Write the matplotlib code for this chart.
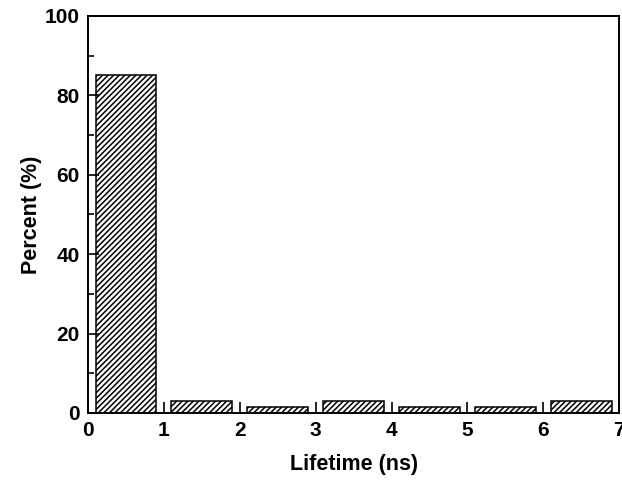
import matplotlib
matplotlib.use("Agg")
import matplotlib.pyplot as plt
from matplotlib.ticker import MultipleLocator

plt.rcParams['font.family'] = ['Liberation Sans', 'DejaVu Sans']
plt.rcParams['font.weight'] = 'bold'
plt.rcParams['hatch.linewidth'] = 1.1

bin_centers = [0.5, 1.5, 2.5, 3.5, 4.5, 5.5, 6.5]
percent = [85, 3, 1.4, 3, 1.4, 1.4, 3]
x_ticks = [0, 1, 2, 3, 4, 5, 6, 7]
y_ticks = [0, 20, 40, 60, 80, 100]

fig = plt.figure(figsize=(6.22, 4.83), dpi=100)
ax = fig.add_axes([0.1415, 0.145, 0.854, 0.822])
ax.bar(bin_centers, percent, width=0.8, facecolor='white', edgecolor='black',
       linewidth=1.1, hatch='//////')
ax.set_xlim(0, 7)
ax.set_ylim(0, 100)
ax.set_xticks(x_ticks)
ax.set_yticks(y_ticks)
ax.yaxis.set_minor_locator(MultipleLocator(10))
ax.tick_params(axis='both', which='major', direction='in', length=8, width=1.2, labelsize=15, pad=6)
ax.tick_params(axis='both', which='minor', direction='in', length=4, width=1.2)
for s in ax.spines.values():
    s.set_linewidth(1.4)
ax.set_xlabel('Lifetime (ns)', fontsize=15.5, fontweight='bold', labelpad=10)
ax.set_ylabel('Percent (%)', fontsize=15.5, fontweight='bold', labelpad=2)
fig.savefig('out.png', dpi=100)
